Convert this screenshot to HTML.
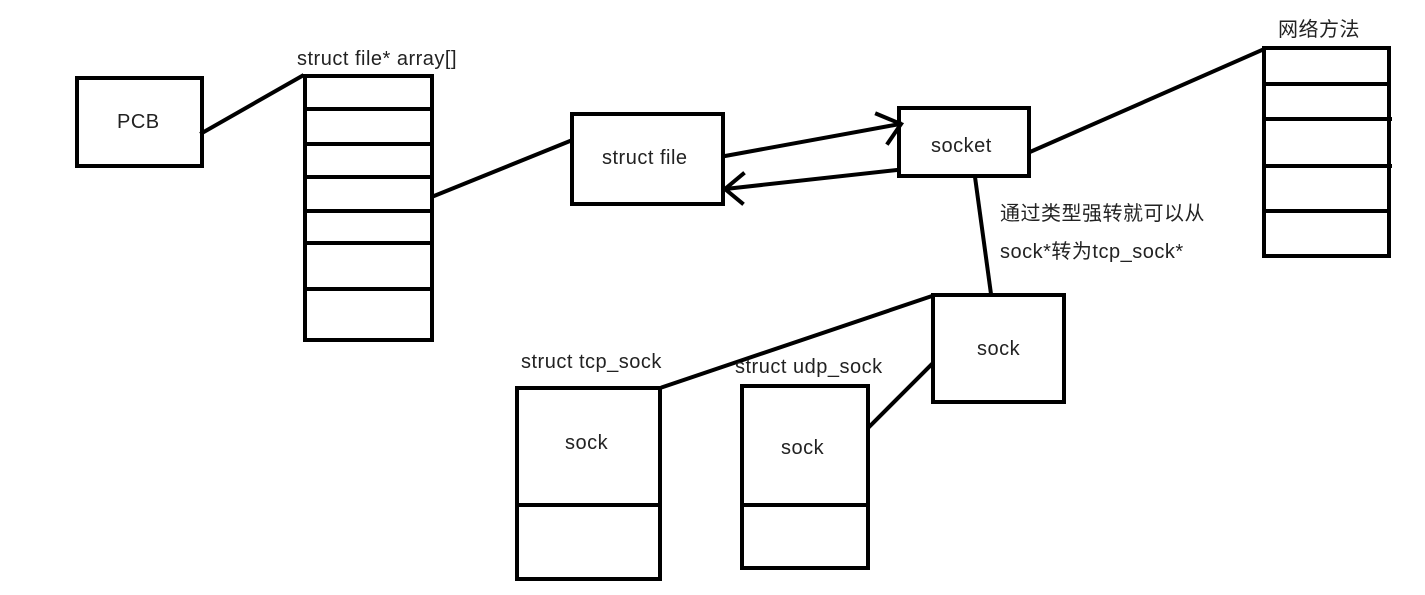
<!DOCTYPE html>
<html><head><meta charset="utf-8"><style>
html,body{margin:0;padding:0;background:#fff;}
svg{display:block;}
text{font-family:"Liberation Sans","Noto Sans CJK SC",sans-serif;font-size:20px;fill:#222;letter-spacing:0.5px;}
</style></head><body>
<svg width="1425" height="595" viewBox="0 0 1425 595" xmlns="http://www.w3.org/2000/svg">
<g fill="none" stroke="#000" stroke-width="4" stroke-linecap="square">
<rect x="77" y="78" width="125" height="88"/>
<line x1="202" y1="133" x2="302" y2="76"/>
<rect x="305" y="76" width="127" height="264"/>
<line x1="305" y1="109" x2="432" y2="109"/>
<line x1="305" y1="144" x2="432" y2="144"/>
<line x1="305" y1="177" x2="432" y2="177"/>
<line x1="305" y1="211" x2="432" y2="211"/>
<line x1="305" y1="243" x2="432" y2="243"/>
<line x1="305" y1="289" x2="432" y2="289"/>
<line x1="434" y1="196" x2="570" y2="141"/>
<rect x="572" y="114" width="151" height="90"/>
<line x1="725" y1="156" x2="900" y2="124"/>
<polyline points="877,114 901,124 888,143"/>
<line x1="897" y1="170" x2="725" y2="189"/>
<polyline points="743,174 725,189 742,203"/>
<rect x="899" y="108" width="130" height="68"/>
<line x1="1030" y1="152" x2="1262" y2="50"/>
<rect x="1264" y="48" width="125" height="208"/>
<line x1="1264" y1="84" x2="1389" y2="84"/>
<line x1="1264" y1="119" x2="1390" y2="119"/>
<line x1="1264" y1="166" x2="1390" y2="166"/>
<line x1="1264" y1="211" x2="1389" y2="211"/>
<line x1="975" y1="177" x2="991" y2="294"/>
<rect x="933" y="295" width="131" height="107"/>
<line x1="932" y1="296" x2="663" y2="387"/>
<rect x="517" y="388" width="143" height="191"/>
<line x1="517" y1="505" x2="660" y2="505"/>
<rect x="742" y="386" width="126" height="182"/>
<line x1="742" y1="505" x2="868" y2="505"/>
<line x1="869" y1="427" x2="932" y2="364"/>
</g>
<text x="117" y="128">PCB</text>
<text x="297" y="65">struct file* array[]</text>
<text x="602" y="164">struct file</text>
<text x="931" y="152">socket</text>
<text x="1278" y="36">网络方法</text>
<text x="1000" y="220">通过类型强转就可以从</text>
<text x="1000" y="258">sock*转为tcp_sock*</text>
<text x="977" y="355">sock</text>
<text x="521" y="368">struct tcp_sock</text>
<text x="735" y="373">struct udp_sock</text>
<text x="565" y="449">sock</text>
<text x="781" y="454">sock</text>
</svg>
</body></html>
